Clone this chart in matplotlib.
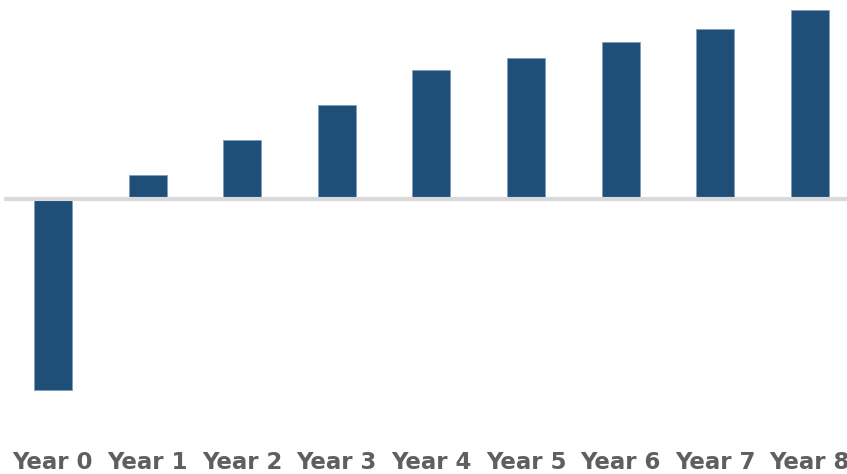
import matplotlib
matplotlib.use("Agg")
from matplotlib import pyplot as plt
from matplotlib import transforms

# cumulative cash flow per year
years = ['Year 0', 'Year 1', 'Year 2', 'Year 3', 'Year 4',
         'Year 5', 'Year 6', 'Year 7', 'Year 8']
values = [-100, 12.5, 31, 49, 67.5, 74, 82, 89, 99]

fig = plt.figure(figsize=(8.47, 4.74), dpi=100)
ax = fig.add_axes([0, 0, 1, 1])

x = list(range(len(years)))
ax.bar(x, values, width=0.40, color='#1f4e79', edgecolor='#7f9dbd',
       linewidth=0.6, zorder=3)

ax.set_xlim(-0.56, 8.393)
ax.set_ylim(-144, 104.2)

# zero line (drawn over the bar bases, as in the original)
ax.axhline(0, xmin=6 / 847, xmax=1, color='#d9d9d9', linewidth=3, zorder=4)

# category labels
trans = transforms.blended_transform_factory(ax.transData, ax.transAxes)
for xi, lab in zip(x, years):
    ax.text(xi, 0.025, lab, transform=trans, ha='center', va='center',
            fontsize=16.5, fontweight='bold', color='#5f5f5f')

ax.axis('off')
fig.savefig('out.png', dpi=100)
